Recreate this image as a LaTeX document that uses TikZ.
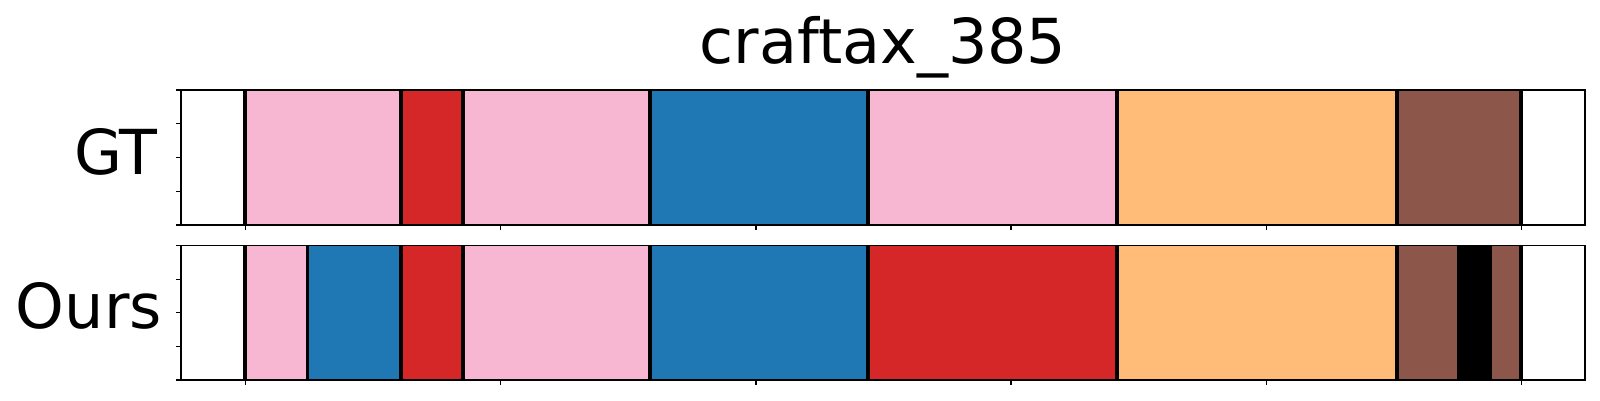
\documentclass[tikz,border=0pt]{standalone}
\usepackage{fontspec}
\setmainfont{DejaVu Sans}
\usetikzlibrary{positioning}
\definecolor{segpink}{HTML}{F7B6D2}
\definecolor{segred}{HTML}{D62728}
\definecolor{segblue}{HTML}{1F77B4}
\definecolor{segorange}{HTML}{FFBB78}
\definecolor{segbrown}{HTML}{8C564B}

\begin{document}
\begin{tikzpicture}[x=1pt, y=-1pt,
    spine/.style={draw=black, line width=1.6pt},
    cut/.style={draw=black, line width=3.8pt},
    tickmark/.style={draw=black, line width=1.2pt},
    lbl/.style={font=\fontsize{62}{62}\selectfont, inner sep=0pt}]
    \useasboundingbox (0,0) rectangle (1600,400);

    % GT row
    \foreach \a/\b/\c in {245/401/segpink, 401/463/segred, 463/650/segpink, 650/868/segblue,
        868/1117/segpink, 1117/1397/segorange, 1397/1521/segbrown}
        \fill[\c] (\a,90) rectangle (\b,225);
    \foreach \a in {245,401,463,650,868,1117,1397,1521}
        \draw[cut] (\a,90) -- (\a,225);

    % Ours row
    \foreach \a/\b/\c in {245/307.5/segpink, 307.5/401/segblue, 401/463/segred, 463/650/segpink,
        650/868/segblue, 868/1117/segred, 1117/1397/segorange, 1397/1459.2/segbrown,
        1459.2/1489.8/black, 1489.8/1521/segbrown}
        \fill[\c] (\a,245.5) rectangle (\b,380);
    \foreach \a in {245,307.5,401,463,650,868,1117,1397,1459.2,1489.8,1521}
        \draw[cut] (\a,245.5) -- (\a,380);

    % axes frames and ticks
    \foreach \t/\bt in {90/225, 245.5/380} {
        \draw[spine] (181,\t) rectangle (1585,\bt);
        \foreach \k in {0,...,4}
            \draw[tickmark] (181,{\t+\k*(\bt-\t)/4}) -- (176,{\t+\k*(\bt-\t)/4});
        \foreach \k in {0,...,5}
            \draw[tickmark] ({245.7+\k*255.1},\bt) -- ({245.7+\k*255.1},\bt+5);
    }

    \node[lbl, anchor=base] (title) at (883,63) {craftax\_385};
    \node[lbl, anchor=base east] (gt) at (158,174.5) {GT};
    \node[lbl, anchor=base east] (ours) at (162,328) {Ours};
\end{tikzpicture}
\end{document}
